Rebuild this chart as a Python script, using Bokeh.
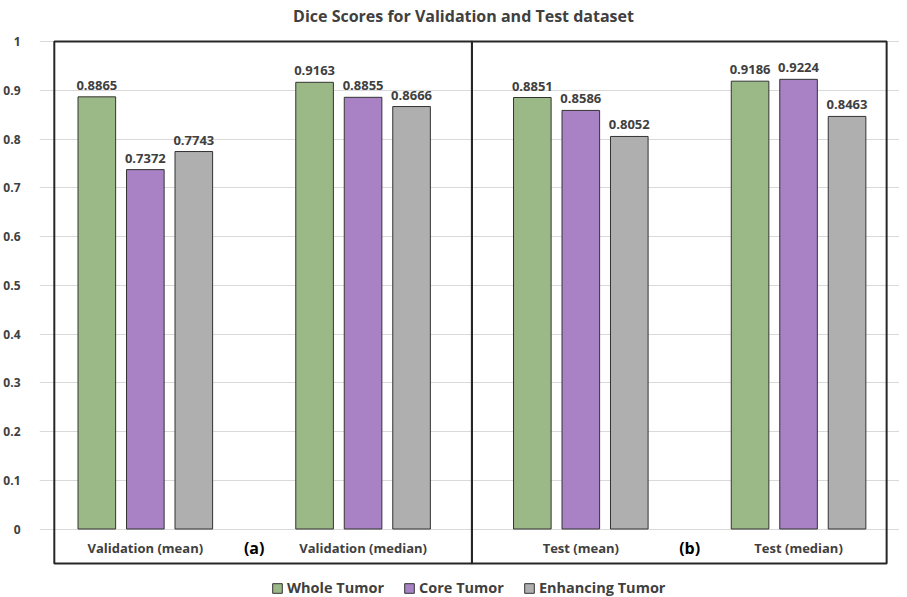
from bokeh.plotting import figure
from bokeh.models import Range1d, FixedTicker, Legend, LegendItem, ColumnDataSource, Label
from bokeh.core.properties import value
from bokeh.embed import file_html
from bokeh.resources import INLINE

# ---- data ----
title_text = "Dice Scores for Validation and Test dataset"
categories = ["Validation (mean)", "Validation (median)", "Test (mean)", "Test (median)"]
whole_tumor = [0.8865, 0.9163, 0.8851, 0.9186]
core_tumor = [0.7372, 0.8855, 0.8586, 0.9224]
enhancing_tumor = [0.7743, 0.8666, 0.8052, 0.8463]
series_names = ["Whole Tumor", "Core Tumor", "Enhancing Tumor"]
panel_labels = ["(a)", "(b)"]
y_ticks = [0, 0.1, 0.2, 0.3, 0.4, 0.5, 0.6, 0.7, 0.8, 0.9, 1]
y_tick_labels = ["0", "0.1", "0.2", "0.3", "0.4", "0.5", "0.6", "0.7", "0.8", "0.9", "1"]

colors = ["#9BB987", "#A982C6", "#AFAFAF"]
FONT = "Open Sans"
TXT = "#404040"

groups = list(range(len(categories)))
offset = 0.2227
bar_w = 0.1727

H = 597
p = figure(width=899, height=H, output_backend="svg", toolbar_location=None,
           title=None, x_axis_location=None, y_axis_location="left",
           x_range=Range1d(-0.486, 3.4636), y_range=Range1d(-0.1405, 1.0841),
           min_border_left=30, min_border_right=0, min_border_bottom=0, min_border_top=0,
           outline_line_color=None)

ax = p.yaxis[0]
ax.ticker = FixedTicker(ticks=y_ticks)
ax.major_label_overrides = {t: l for t, l in zip(y_ticks, y_tick_labels)}
ax.axis_line_color = None
ax.major_tick_line_color = None
ax.minor_tick_line_color = None
ax.major_label_standoff = 13
ax.major_label_text_font = FONT
ax.major_label_text_font_size = "12px"
ax.major_label_text_font_style = "bold"
ax.major_label_text_color = TXT

p.ygrid.ticker = FixedTicker(ticks=y_ticks)
p.ygrid.grid_line_color = "#D9D9D9"
p.ygrid.grid_line_width = 1
p.xgrid.visible = False

# title
p.add_layout(Label(x=424, y=H - 15, x_units="screen", y_units="screen", text=title_text,
                   text_align="center", text_baseline="middle", text_font=FONT,
                   text_font_size="16px", text_font_style="bold", text_color=TXT))

# panel boxes
mid = (groups[1] + groups[2]) / 2
p.quad(left=[groups[0] - 0.418, mid], right=[mid, groups[3] + 0.4045],
       top=[1, 1], bottom=[-0.0708, -0.0708],
       fill_color=None, line_color="#262626", line_width=2)

items = []
for i, (vals, name) in enumerate(zip([whole_tumor, core_tumor, enhancing_tumor], series_names)):
    xs = [g + (i - 1) * offset for g in groups]
    src = ColumnDataSource(dict(x=xs, top=vals, lab=["%.4f" % v for v in vals]))
    r = p.vbar(x="x", top="top", width=bar_w, source=src, fill_color=colors[i],
               line_color="#333333", line_width=1)
    p.text(x="x", y="top", text="lab", source=src, text_align="center",
           text_baseline="bottom", y_offset=-7, text_font=value(FONT),
           text_font_size="13px", text_font_style="bold", text_color=TXT)
    items.append(LegendItem(label=name, renderers=[r]))

# category labels
p.text(x=groups, y=[-0.039] * len(groups), text=categories, text_align="center",
       text_baseline="middle", text_font=value(FONT), text_font_size="13px",
       text_font_style="bold", text_color=TXT)
p.text(x=[(groups[0] + groups[1]) / 2, (groups[2] + groups[3]) / 2], y=[-0.039, -0.039],
       text=panel_labels, text_align="center", text_baseline="middle",
       text_font=value(FONT), text_font_size="16px", text_font_style="bold",
       text_color="#000000")

legend = Legend(items=items, orientation="horizontal", location=(232, 0),
                background_fill_alpha=0, border_line_color=None,
                padding=0, margin=0, spacing=19, label_standoff=4,
                glyph_width=12, glyph_height=12,
                label_text_font=FONT, label_text_font_size="14.5px",
                label_text_font_style="bold", label_text_color=TXT)
p.add_layout(legend)

open("out.html", "w").write(file_html(p, INLINE))
